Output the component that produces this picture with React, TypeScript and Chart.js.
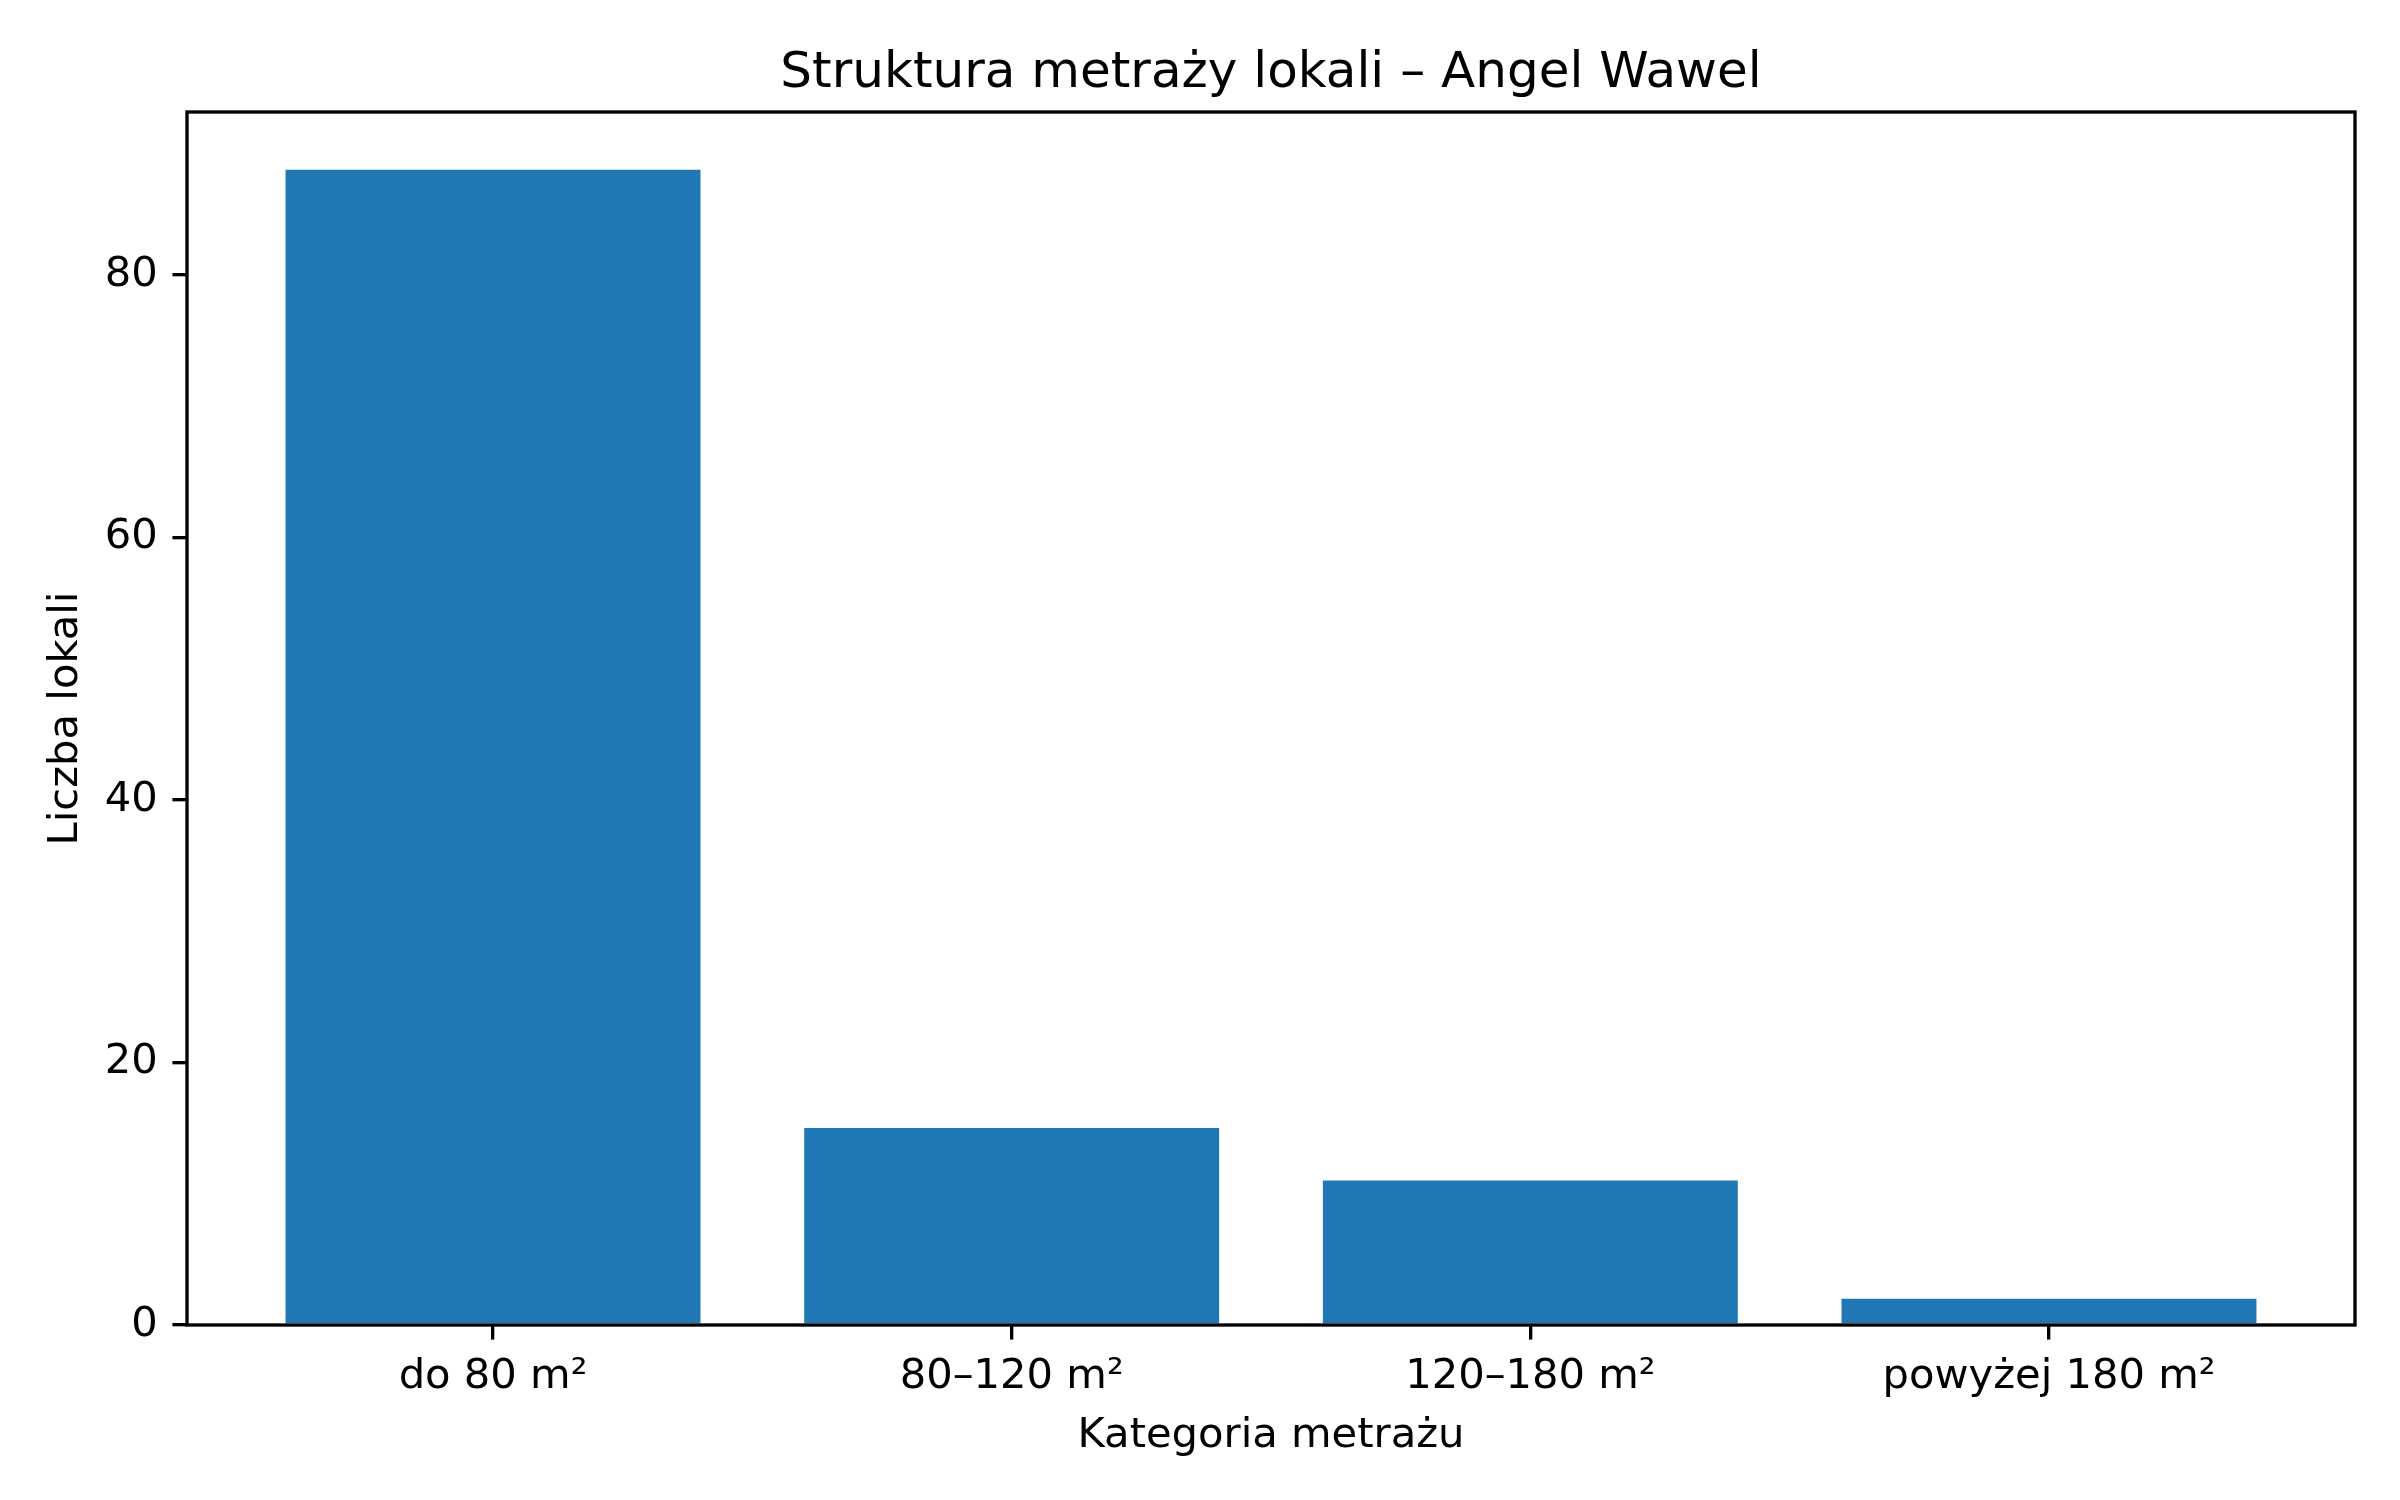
import { useEffect, useRef } from "react";
import Chart from "chart.js/auto";

const categories = ["do 80 m²", "80–120 m²", "120–180 m²", "powyżej 180 m²"];
const counts = [88, 15, 11, 2];
const yTicks = [0, 20, 40, 60, 80];
const chartTitle = "Struktura metraży lokali – Angel Wawel";
const xTitle = "Kategoria metrażu";
const yTitle = "Liczba lokali";

const FAMILY = "'DejaVu Sans', sans-serif";
const PT = 300 / 72;
const LABEL_SIZE = 10 * PT;
const TITLE_SIZE = 12 * PT;

function middleToBaseline(size: number): number {
  const c = document.createElement("canvas").getContext("2d")!;
  c.font = `${size}px ${FAMILY}`;
  c.textBaseline = "alphabetic";
  const a2 = c.measureText("H").actualBoundingBoxAscent;
  c.textBaseline = "middle";
  const a1 = c.measureText("H").actualBoundingBoxAscent;
  return a2 - a1;
}

export default function App() {
  const ref = useRef<HTMLCanvasElement>(null);

  useEffect(() => {
    const canvas = ref.current!;
    const n = categories.length;
    const barW = 0.8;
    const span = n - 1 + barW;
    const xMin = -barW / 2 - 0.05 * span;
    const xMax = n - 1 + barW / 2 + 0.05 * span;
    const yMax = Math.max(...counts) * 1.05;

    const W = 2400;
    const H = 1500;
    const areaLeft = 187;
    const areaRight = 2355;
    const areaTop = 112;
    const areaBottom = 1325;
    const tickLen = 3.5 * PT;
    const lh = LABEL_SIZE * 1.2;
    const d = middleToBaseline(LABEL_SIZE);

    const xTickBaseline = 1388;
    const xTickPad = xTickBaseline - d - areaBottom - tickLen - lh / 2;
    const xTitleBaseline = 1447;
    const xTitlePadBottom = H - lh / 2 - (xTitleBaseline - d);
    const yTitleBaselineX = 77;
    const yTitlePadTop = yTitleBaselineX - d - lh / 2;

    const decorPlugin = {
      id: "decor",
      afterDatasetsDraw(chart: any) {
        const { ctx, chartArea } = chart;
        const { left, top, right, bottom } = chartArea;
        ctx.save();
        ctx.strokeStyle = "#000";
        ctx.lineWidth = 0.8 * PT;
        ctx.strokeRect(left, top, right - left, bottom - top);
        ctx.fillStyle = "#000";
        ctx.font = `${TITLE_SIZE}px ${FAMILY}`;
        ctx.textAlign = "center";
        ctx.textBaseline = "alphabetic";
        ctx.fillText(chartTitle, (left + right) / 2, top - 6 * PT);
        ctx.restore();
      },
    };

    const chart = new Chart(canvas, {
      type: "bar",
      data: {
        datasets: [
          {
            data: counts.map((v, i) => ({ x: i, y: v })),
            backgroundColor: "#1f77b4",
            borderWidth: 0,
            barPercentage: 0.8,
            categoryPercentage: 1,
          },
        ],
      },
      options: {
        responsive: false,
        devicePixelRatio: 1,
        animation: false,
        layout: { padding: { left: 0, right: W - areaRight, top: areaTop, bottom: 0 } },
        plugins: {
          legend: { display: false },
          tooltip: { enabled: false },
          title: { display: false },
        },
        scales: {
          x: {
            type: "linear",
            min: xMin,
            max: xMax,
            offset: false,
            afterFit: (s: any) => {
              s.height = H - areaBottom;
            },
            afterBuildTicks: (s: any) => {
              s.ticks = categories.map((_, i) => ({ value: i }));
            },
            grid: {
              offset: false,
              drawOnChartArea: false,
              drawTicks: true,
              tickLength: tickLen,
              color: "#000",
              lineWidth: 0.8 * PT,
            },
            border: { display: false },
            ticks: {
              color: "#000",
              font: { family: FAMILY, size: LABEL_SIZE },
              padding: xTickPad,
              maxRotation: 0,
              autoSkip: false,
              callback: (v: any) => categories[Math.round(Number(v))] ?? "",
            },
            title: {
              display: true,
              text: xTitle,
              color: "#000",
              font: { family: FAMILY, size: LABEL_SIZE },
              padding: { top: 0, bottom: xTitlePadBottom },
            },
          },
          y: {
            type: "linear",
            min: 0,
            max: yMax,
            afterFit: (s: any) => {
              s.width = areaLeft;
            },
            afterBuildTicks: (s: any) => {
              s.ticks = yTicks.map((v) => ({ value: v }));
            },
            grid: {
              drawOnChartArea: false,
              drawTicks: true,
              tickLength: tickLen,
              color: "#000",
              lineWidth: 0.8 * PT,
            },
            border: { display: false },
            ticks: {
              color: "#000",
              font: { family: FAMILY, size: LABEL_SIZE },
              padding: 3.5 * PT,
              callback: (v: any) => String(v),
            },
            title: {
              display: true,
              text: yTitle,
              color: "#000",
              font: { family: FAMILY, size: LABEL_SIZE },
              padding: { top: yTitlePadTop, bottom: 0 },
            },
          },
        },
      },
      plugins: [decorPlugin],
    } as any);

    return () => chart.destroy();
  }, []);

  return (
    <div style={{ position: "absolute", left: 0, top: 0, width: 2400, height: 1500, background: "#fff" }}>
      <canvas ref={ref} width={2400} height={1500} style={{ width: 2400, height: 1500, display: "block" }} />
    </div>
  );
}
